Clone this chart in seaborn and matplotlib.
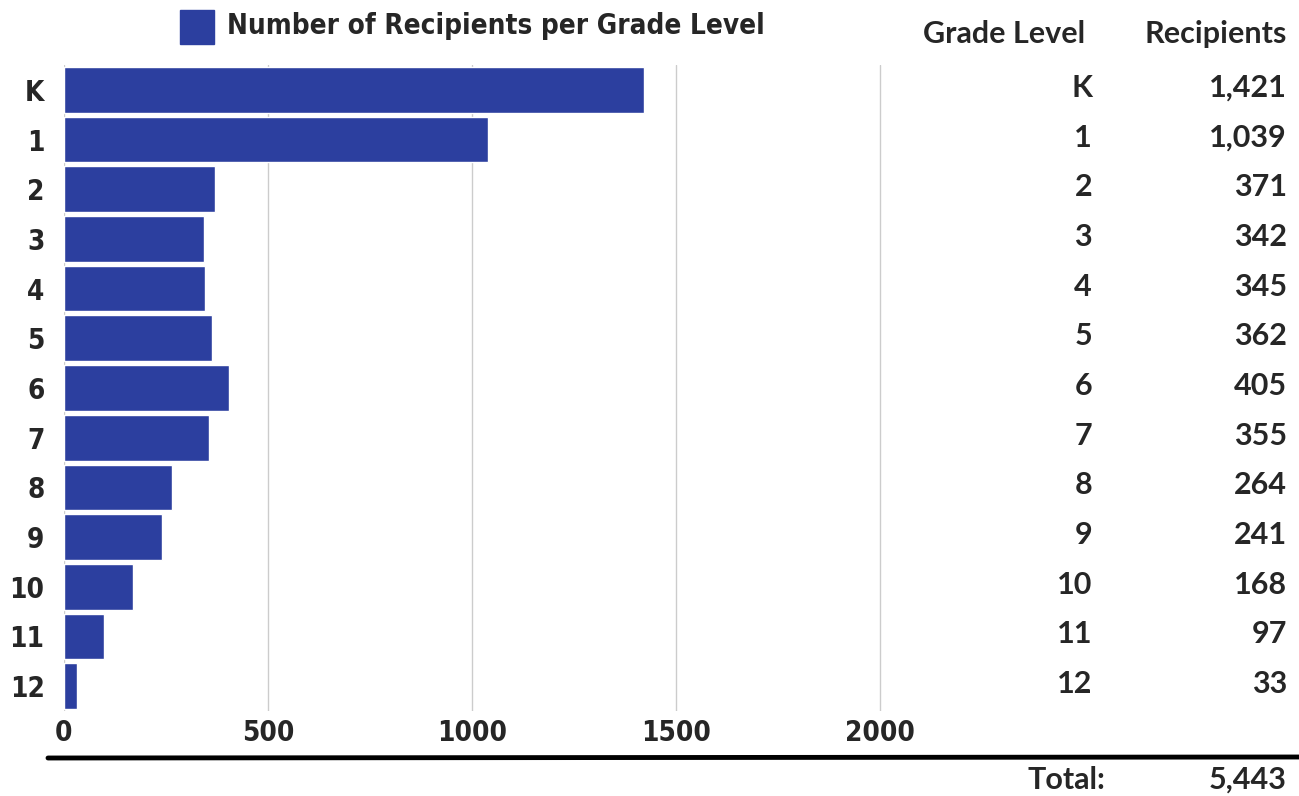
import pandas as pd
import matplotlib.pyplot as plt
import matplotlib.transforms as mtransforms
from matplotlib import font_manager
from matplotlib.font_manager import FontProperties
from matplotlib.patches import Rectangle
import seaborn as sns

# data
grades = ["K", "1", "2", "3", "4", "5", "6", "7", "8", "9", "10", "11", "12"]
recipients = [1421, 1039, 371, 342, 345, 362, 405, 355, 264, 241, 168, 97, 33]
x_ticks = [0, 500, 1000, 1500, 2000]
legend_label = "Number of Recipients per Grade Level"

bar_color = "#2C3F9F"


def font_file(names, size):
    # look up an installed font file by file name, fall back to DejaVu bold
    for name in names:
        for f in font_manager.fontManager.ttflist:
            if f.fname.split("/")[-1] == name:
                return FontProperties(fname=f.fname, size=size)
    return FontProperties(family="DejaVu Sans", weight="bold", size=size)


chart_fp = font_file(["DejaVuSansCondensed-Bold.ttf", "BarlowSemiCondensed-Bold.ttf"], 20)
table_fp = font_file(["Lato-Bold.ttf", "OpenSans-Bold.ttf", "Roboto-Bold.ttf"], 22)

df = pd.DataFrame({"grade": grades, "recipients": recipients})

sns.set_style("white")

fig = plt.figure(figsize=(12.99, 7.96), dpi=100)
xmax = 2050
ax = fig.add_axes([64 / 1299, 1 - 711 / 796, xmax * 204 / 500 / 1299, (711 - 65) / 796])

sns.barplot(data=df, x="recipients", y="grade", order=grades, color=bar_color,
            width=0.92, saturation=1, ax=ax, orient="h")

ax.set_xlim(0, xmax)
ax.set_ylim(12.5, -0.5)
ax.set_xticks(x_ticks)
ax.set_xticklabels([str(t) for t in x_ticks], fontproperties=chart_fp)
ax.set_yticklabels(grades, fontproperties=chart_fp)
ax.tick_params(axis="x", length=0, pad=6)
ax.tick_params(axis="y", length=0, pad=14)
ax.set_xlabel("")
ax.set_ylabel("")
ax.xaxis.grid(True, color="#cccccc", linewidth=1)
ax.set_axisbelow(True)
for s in ax.spines.values():
    s.set_visible(False)

# legend
fig.patches.append(Rectangle((180 / 1299, 1 - 44 / 796), 34 / 1299, 34 / 796,
                             transform=fig.transFigure, color=bar_color))
fig.text(227 / 1299, 1 - 26 / 796, legend_label, fontproperties=chart_fp,
         va="center", ha="left")

# table on the right
tr = mtransforms.blended_transform_factory(fig.transFigure, ax.transData)
fig.text(1085 / 1299, 1 - 34 / 796, "Grade Level", fontproperties=table_fp,
         ha="right", va="center")
fig.text(1287 / 1299, 1 - 34 / 796, "Recipients", fontproperties=table_fp,
         ha="right", va="center")
for i, (g, v) in enumerate(zip(grades, recipients)):
    fig.text(1092 / 1299, i - 0.04, g, fontproperties=table_fp,
             ha="right", va="center", transform=tr)
    fig.text(1287 / 1299, i - 0.04, f"{v:,}", fontproperties=table_fp,
             ha="right", va="center", transform=tr)

# total line
fig.add_artist(plt.Line2D([48 / 1299, 1.0], [1 - 758 / 796, 1 - 757 / 796],
                          transform=fig.transFigure, color="black", linewidth=3.5))
fig.text(1105 / 1299, 1 - 780 / 796, "Total:", fontproperties=table_fp,
         ha="right", va="center")
fig.text(1287 / 1299, 1 - 780 / 796, f"{sum(recipients):,}", fontproperties=table_fp,
         ha="right", va="center")

fig.savefig("out.png", dpi=100)
